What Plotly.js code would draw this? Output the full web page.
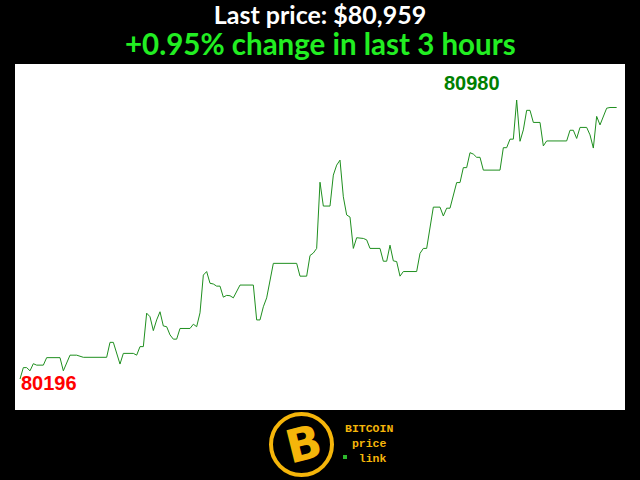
<!DOCTYPE html>
<html>
<head>
<meta charset="utf-8">
<script src="https://cdn.plot.ly/plotly-3.0.1.min.js"></script>
<style>html,body{margin:0;padding:0;background:#000;}#chart{width:640px;height:480px;}</style>
</head>
<body>
<div id="chart"></div>
<script>
// minute index within the last 3 hours (vertices of the price line)
var minutes = [0,1,2,3,4,5,6,7,8,12,13,14,15,17,18,19,26,27,28,30,31,34,35,36,37,38,39,40,41,42,43,44,45,46,47,48,51,52,53,54,55,56,57,58,59,60,61,62,63,64,66,70,71,72,73,74,76,83,84,86,87,88,89,90,91,93,94,95,96,97,98,99,100,101,103,104,105,108,109,110,111,112,113,114,115,119,120,121,122,124,126,127,128,129,131,132,133,134,135,136,137,138,139,144,145,146,147,148,149,150,151,152,153,154,156,157,158,164,165,166,167,168,170,171,172,173,174,175,176,177,179];
var prices = [80196,80228,80228,80219,80239,80235,80235,80235,80256,80256,80219,80240,80263,80263,80261,80257,80257,80299,80299,80238,80268,80268,80263,80287,80287,80381,80371,80332,80362,80385,80345,80343,80320,80308,80308,80338,80338,80350,80343,80382,80488,80498,80465,80463,80457,80457,80426,80431,80430,80424,80460,80460,80362,80362,80399,80424,80521,80521,80485,80485,80543,80550,80563,80749,80682,80682,80769,80797,80811,80708,80657,80651,80563,80593,80591,80587,80563,80563,80527,80527,80572,80528,80526,80485,80498,80498,80549,80563,80563,80679,80679,80654,80676,80676,80748,80748,80790,80790,80832,80828,80819,80819,80783,80783,80846,80846,80870,80870,80980,80864,80896,80951,80951,80917,80917,80851,80865,80865,80895,80895,80872,80903,80903,80882,80845,80934,80910,80933,80957,80959,80959];
var periodLabel = "last 3 hours";
var logoLines = ["BITCOIN", "price", "link"];

var first = prices[0], last = prices[prices.length - 1];
var change = (last - first) / first * 100;
var minV = Math.min.apply(null, prices), maxV = Math.max.apply(null, prices);
var minI = minutes[prices.indexOf(minV)], maxI = minutes[prices.indexOf(maxV)];

// pixel -> paper helpers (plot area 15..625 x 64..410)
function PX(x){ return (x - 15) / 610; }
function PY(y){ return (410 - y) / 346; }
var gold = '#f5b50a';

var trace = {
  x: minutes, y: prices, type: 'scatter', mode: 'lines',
  line: {color: '#1f8f1f', width: 1}, hoverinfo: 'none'
};

var logoText = logoLines[0] + "<br>" + logoLines[1] + "<br>\u00a0" + logoLines[2];

var layout = {
  width: 640, height: 480,
  paper_bgcolor: '#000', plot_bgcolor: '#fff',
  margin: {l: 15, r: 15, t: 64, b: 70, pad: 0},
  showlegend: false,
  title: {
    text: 'Last price: $' + last.toLocaleString('en-US'),
    font: {family: 'Lato', size: 25, color: '#fff', weight: 'bold'},
    x: 0.5, xanchor: 'center', y: 1 - 15/480, yanchor: 'middle', yref: 'container'
  },
  xaxis: {range: [-1.5, 181.5], visible: false, fixedrange: true},
  yaxis: {range: [80108.9, 81081.2], visible: false, fixedrange: true},
  shapes: [
    {type: 'circle', xref: 'paper', yref: 'paper', x0: PX(271), x1: PX(332), y0: PY(475), y1: PY(414),
     line: {color: gold, width: 4}, fillcolor: '#000'},
    {type: 'rect', xref: 'paper', yref: 'paper', x0: PX(343), x1: PX(347), y0: PY(459), y1: PY(455),
     line: {width: 0}, fillcolor: '#2db82d'}
  ],
  annotations: [
    {text: (change >= 0 ? '+' : '') + change.toFixed(2) + '% change in ' + periodLabel,
     xref: 'paper', yref: 'paper', x: 0.5, y: PY(43), xanchor: 'center', yanchor: 'middle', showarrow: false,
     font: {family: 'Lato', size: 29.5, color: '#22ee22', weight: 'bold'}},
    {text: String(minV), xref: 'x', yref: 'y', x: minI, y: minV, xanchor: 'left', yanchor: 'middle',
     yshift: -4, xshift: -1, showarrow: false,
     font: {family: 'Liberation Sans', size: 20, color: '#ff0000', weight: 'bold'}},
    {text: String(maxV), xref: 'x', yref: 'y', x: maxI, y: maxV, xanchor: 'right', yanchor: 'middle',
     yshift: 17, xshift: -15, showarrow: false,
     font: {family: 'Liberation Sans', size: 20, color: '#008000', weight: 'bold'}},
    {text: 'B', xref: 'paper', yref: 'paper', x: PX(303), y: PY(444), xanchor: 'center', yanchor: 'middle',
     showarrow: false, textangle: -14,
     font: {family: 'DejaVu Sans', size: 46, color: gold, weight: 'bold'}},
    {text: logoText, xref: 'paper', yref: 'paper', x: PX(369), y: PY(443), xanchor: 'center', yanchor: 'middle',
     align: 'center', showarrow: false, borderpad: 0,
     font: {family: 'Liberation Mono', size: 11.5, color: gold, weight: 'bold'}}
  ]
};

Plotly.newPlot('chart', [trace], layout, {displayModeBar: false, staticPlot: true});
</script>
</body>
</html>
